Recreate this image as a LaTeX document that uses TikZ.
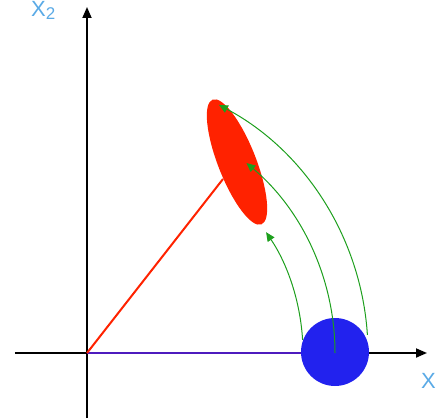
\documentclass[tikz,border=0pt]{standalone}
\usepackage{fontspec}
\setmainfont{Liberation Sans}
\usetikzlibrary{arrows.meta,shapes.geometric}
\definecolor{lblue}{HTML}{5AAAE6}
\definecolor{grn}{HTML}{22BB22}
\definecolor{rd}{HTML}{FF2200}
\definecolor{bl}{HTML}{2222EE}
\begin{document}
\begin{tikzpicture}[x=1pt,y=1pt,
  axis/.style={line width=1.8pt,-{Triangle[length=11pt,width=9pt]}},
  flow/.style={grn!85!black,line width=1pt,-{Triangle[length=9pt,width=8pt]}},
  lbl/.style={text=lblue,font=\fontsize{22}{22}\selectfont,inner sep=0pt}]
\useasboundingbox (-87,-65) rectangle (360,353);
\coordinate (O) at (0,0);
\coordinate (xs) at (-72,0);
\coordinate (xe) at (340,0);
\coordinate (ys) at (0,-65);
\coordinate (ye) at (0,346);
\draw[axis] (xs) -- (xe);
\draw[axis] (ys) -- (ye);
\node[lbl,anchor=north west] (xl) at (334,-20) {X};
\node[lbl,anchor=north west] (yl) at (-56,352) {X\raisebox{-3pt}{\fontsize{17}{17}\selectfont 2}};
% blue body and vector
\draw[bl!80!red,line width=2.8pt] (O) -- (248,0);
\node[circle,fill=bl,inner sep=0pt,minimum size=68pt] (ball) at (248,1) {};
% red vector and ellipse
\draw[rd,line width=2pt] (O) -- (136,174);
\node[ellipse,fill=rd,inner sep=0pt,minimum width=134pt,minimum height=38pt,rotate=111.4] (ell) at (150,191) {};
% green flow lines (arcs about origin)
\draw[flow] (3.5:216) arc[start angle=3.5,end angle=34,radius=216];
\draw[flow] (0:248) arc[start angle=0,end angle=50,radius=248];
\draw[flow] (3.7:281) arc[start angle=3.7,end angle=62,radius=281];
\end{tikzpicture}
\end{document}
